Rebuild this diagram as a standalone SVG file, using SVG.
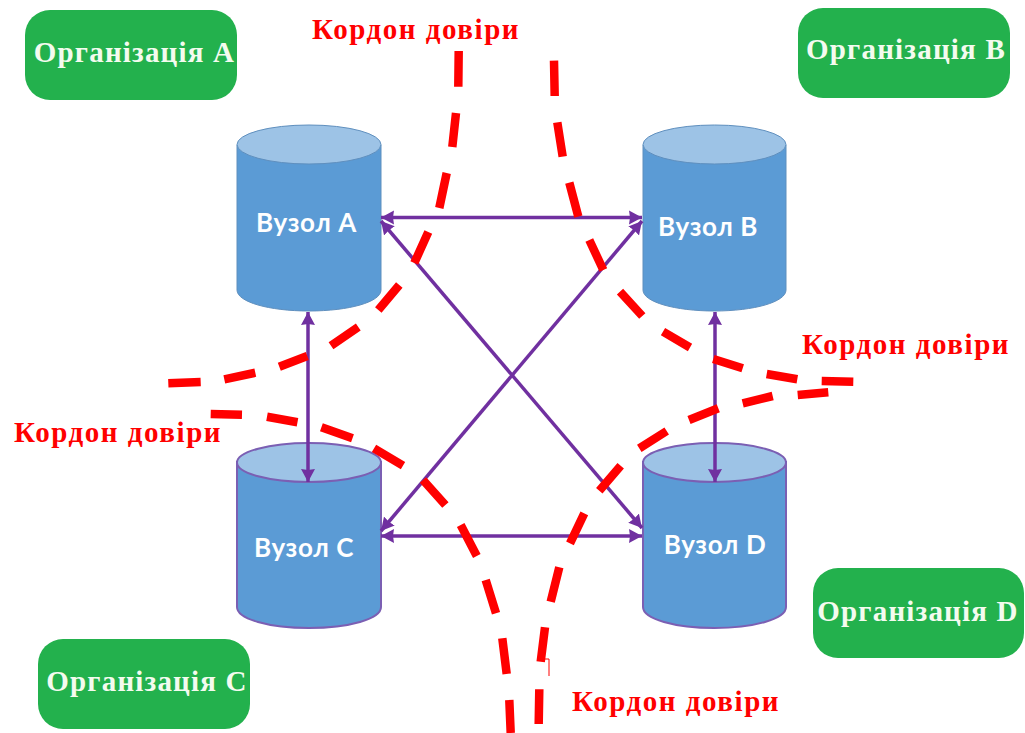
<svg xmlns="http://www.w3.org/2000/svg" width="1025" height="733" viewBox="0 0 1025 733">
<style>
.org{fill:#23b14d}
.ot{font:bold 29px "Liberation Serif",serif;letter-spacing:1.2px;fill:#f4fbef;text-anchor:middle}
.kd{font:bold 29px "Liberation Serif",serif;letter-spacing:1.55px;fill:#ff0000}
.body{fill:#5b9bd5}
.top{fill:#9dc3e6}
.s1{stroke:#5f8fbe;stroke-width:1}
.s2{stroke:#7b5fb3;stroke-width:2}
.nt{font:bold 26px "Lato","Open Sans",sans-serif;letter-spacing:.6px;fill:#fff;text-anchor:middle}
.link{stroke:#7030a0;stroke-width:3.5;fill:none;marker-start:url(#ah);marker-end:url(#ah)}
.dash{stroke:#ff0000;stroke-width:8.5;fill:none}
</style>
<defs>
<marker id="ah" markerUnits="userSpaceOnUse" markerWidth="16" markerHeight="16" refX="13" refY="7.500" orient="auto-start-reverse"><path d="M0 0.5L13 7.500L0 14.500L1 7.500Z" fill="#7030a0"/></marker>
</defs>
<rect width="1025" height="733" fill="#fff"/>
<g id="org-a"><rect class="org" x="25" y="10" width="212" height="90" rx="25"/><text class="ot" x="134.500" y="62">Організація A</text></g>
<g id="org-b"><rect class="org" x="798" y="8" width="212" height="90" rx="25"/><text class="ot" x="906" y="59">Організація B</text></g>
<g id="org-c"><rect class="org" x="38" y="639" width="212" height="90" rx="25"/><text class="ot" x="147" y="691">Організація C</text></g>
<g id="org-d"><rect class="org" x="813" y="568" width="211" height="90" rx="25"/><text class="ot" x="918" y="621">Організація D</text></g>
<g id="node-a"><path class="body s1" d="M237 145V290C237 302 269 311 309 311S381 302 381 290V145Z"/><ellipse class="top s1" cx="309" cy="144.500" rx="72" ry="19.500"/><text class="nt" x="306.500" y="232">Вузол A</text></g>
<g id="node-b"><path class="body s1" d="M643 145V290C643 302 675 311 714.500 311S786 302 786 290V145Z"/><ellipse class="top s1" cx="714.500" cy="144.500" rx="71.500" ry="19.500"/><text class="nt" x="708" y="236">Вузол B</text></g>
<g id="node-c"><path class="body s2" d="M237 462V607C237 619 269 628 309 628S381 619 381 607V462Z"/><ellipse class="top s2" cx="309" cy="462.500" rx="72" ry="19.500"/><text class="nt" x="304" y="557">Вузол C</text></g>
<g id="node-d"><path class="body s2" d="M643 462V607C643 619 675 628 714.500 628S786 619 786 607V462Z"/><ellipse class="top s2" cx="714.500" cy="462.500" rx="71.500" ry="19.500"/><text class="nt" x="715" y="554">Вузол D</text></g>
<g id="connectors">
<path class="link" d="M381 217.500H642"/>
<path class="link" d="M381 536H642"/>
<path class="link" d="M381 221L642 528"/>
<path class="link" d="M642 221L381 531"/>
<path class="link" d="M308 312V482"/>
<path class="link" d="M715 312V482"/>
</g>
<g id="boundaries">
<path class="dash" d="M458.700 51L458.300 86.700M456 113L452.300 147M446.700 173L439.300 208M428.300 232L414.300 263M399.300 285L378.300 310M358.300 327L331 345.700M307.300 356L279.300 366.700M255.300 372.700L224.300 379.300M200.700 382L168.300 383.300"/>
<path class="dash" d="M554 60.700L554.700 96M557.300 122.300L562.700 156.700M569.300 182.700L578.300 216.700M589.300 240L603.300 270M620 291.700L642.300 316M663 331.700L690 347.500M713.300 359L742.700 368.300M766.700 374L797.300 379.300M821.700 381L853.300 381.700"/>
<path class="dash" d="M828.300 392.300L797.700 395M772.700 396L742.700 403.300M718.300 408.300L689 420M666.700 431L639.300 448.300M620.700 465.700L599.300 490.700M584.300 513.300L570 543.300M559.300 567.300L550.700 601.700M545 627.300L540.700 661.700M539.300 689.300L538.700 724"/>
<path class="dash" d="M210.700 414L242 414.700M267 416.700L297.500 422.300M321.400 427.300L352.500 438.300M374 448.300L403 465.700M423 480L445.400 505M460.700 525L476.800 556M485.700 580L496 613.300M502.300 638.300L506.700 674M509.300 700L510.700 733"/>
<path d="M545 659H549V676" stroke="#ff0000" stroke-width="1" fill="none"/>
</g>
<g id="labels">
<text class="kd" x="312" y="39">Кордон довіри</text>
<text class="kd" x="802" y="354">Кордон довіри</text>
<text class="kd" x="14" y="442">Кордон довіри</text>
<text class="kd" x="572" y="711">Кордон довіри</text>
</g>
</svg>
